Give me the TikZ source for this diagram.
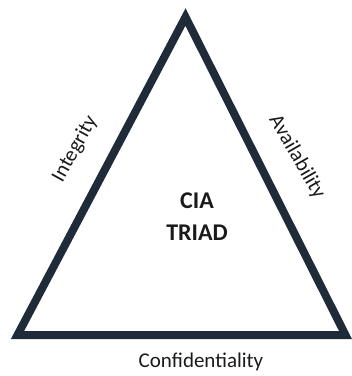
\documentclass[tikz,border=0pt]{standalone}
\usepackage{fontspec}
\setmainfont{Carlito}
\definecolor{edge}{HTML}{1F2B38}
\definecolor{ink}{HTML}{1A1A1A}
\begin{document}
\begin{tikzpicture}[x=1pt,y=-1pt,
  side/.style={line width=8pt, line join=miter, draw=edge},
  label/.style={text=ink, font=\fontsize{21}{25}\selectfont, inner sep=0pt},
  title/.style={text=ink, font=\bfseries\fontsize{24}{32}\selectfont, align=center, inner sep=0pt}]
  \useasboundingbox (0,0) rectangle (352,376);
  \coordinate (top) at (185.5,17);
  \coordinate (bl) at (17.5,335);
  \coordinate (br) at (345.5,335);
  \draw[side] (top) -- (bl) -- (br) -- cycle;
  \node[title] (center) at (197,217) {CIA\\TRIAD};
  \node[label, rotate=61] (integ) at (75,149) {Integrity};
  \node[label, rotate=-60] (avail) at (297,157) {Availability};
  \node[label] (conf) at (201,362) {Confidentiality};
\end{tikzpicture}
\end{document}
